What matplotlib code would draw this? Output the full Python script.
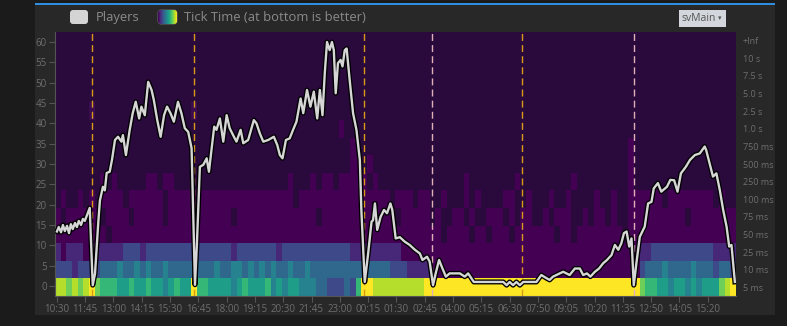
import numpy as np
import matplotlib
matplotlib.use('Agg')
import matplotlib.pyplot as plt
import matplotlib.patheffects as pe
from matplotlib.patches import FancyBboxPatch, Rectangle
from matplotlib.colors import to_rgb

plt.rcParams['font.family'] = ['Open Sans', 'DejaVu Sans']

# ---------------- data ----------------
tick_labels = ['10:30', '11:45', '13:00', '14:15', '15:30', '16:45', '18:00', '19:15',
               '20:30', '21:45', '23:00', '00:15', '01:30', '02:45', '04:00', '05:15',
               '06:30', '07:50', '09:05', '10:20', '11:35', '12:50', '14:05', '15:20']
tick_step = 75  # minutes between labels

bucket_labels = ['5 ms', '10 ms', '25 ms', '50 ms', '75 ms', '100 ms', '250 ms', '500 ms',
                 '750 ms', '1.0 s', '2.5 s', '5.0 s', '7.5 s', '10 s', '+Inf']

# minutes since 10:30
players_t = [0, 5, 11, 16, 21, 27, 32, 37, 42, 48, 53, 58, 64, 69, 74, 80, 87, 91, 95, 101,
             105, 110, 114, 122, 127, 132, 140, 146, 154, 162, 171, 175, 183, 193, 201, 209,
             218, 224, 233, 242, 251, 257, 266, 275, 284, 292, 301, 310, 321, 330, 339, 348,
             357, 361, 366, 371, 379, 388, 397, 403, 417, 423, 432, 441, 450, 458, 467, 476,
             487, 494, 507, 522, 529, 538, 547, 560, 575, 584, 591, 598, 607, 617, 626, 635,
             646, 653, 663, 672, 681, 690, 697, 704, 710, 716, 723, 729, 734, 739, 745, 752,
             757, 763, 768, 776, 785, 794, 803, 807, 816, 825, 834, 838, 843, 849, 858, 867,
             875, 884, 889, 898, 909, 922, 935, 949, 962, 969, 981, 988, 997, 1004, 1013,
             1022, 1031, 1041, 1068, 1081, 1090, 1105, 1183, 1192, 1200, 1209, 1218, 1227,
             1236, 1271, 1284, 1298, 1306, 1315, 1324, 1342, 1359, 1373, 1386, 1395, 1405,
             1414, 1426, 1437, 1448, 1458, 1470, 1479, 1488, 1496, 1503, 1510, 1517, 1523,
             1529, 1536, 1545, 1558, 1567, 1576, 1582, 1593, 1602, 1617, 1626, 1636, 1645,
             1654, 1667, 1678, 1691, 1704, 1717, 1721, 1730, 1739, 1748, 1757, 1766, 1775,
             1782, 1788, 1797]
players_v = [13.4, 14.5, 13.2, 15.0, 13.5, 14.8, 13.0, 15.2, 14.0, 15.5, 14.5, 16.0, 15.0, 16.5,
             16.0, 17.5, 19.2, 10.0, 0.2, 3.0, 8.9, 16.0, 21.0, 24.4, 23.5, 27.8, 28.1, 31.0,
             35.9, 36.7, 35.5, 37.1, 32.2, 38.4, 42.5, 45.3, 41.2, 44.1, 42.0, 50.2, 48.2,
             45.7, 40.8, 36.7, 42.0, 44.1, 42.5, 40.4, 45.3, 42.5, 38.8, 37.9, 33.9, 18.7,
             0.3, 10.0, 29.3, 29.8, 31.4, 28.1, 39.2, 38.4, 41.2, 35.5, 42.0, 38.8, 37.1,
             35.5, 38.4, 35.1, 35.9, 40.8, 40.0, 37.5, 35.5, 35.9, 36.7, 34.7, 32.2, 31.4,
             35.9, 36.3, 38.4, 40.4, 46.1, 42.5, 48.2, 44.1, 47.8, 41.2, 48.2, 42.0, 52.3,
             60.0, 58.0, 60.0, 58.0, 47.4, 54.8, 55.6, 54.0, 58.0, 58.4, 50.7, 42.5, 38.4,
             31.0, 18.7, 1.0, 8.0, 15.8, 16.2, 20.3, 13.8, 17.0, 18.7, 17.9, 20.3, 18.7,
             11.7, 12.0, 10.9, 10.1, 8.9, 8.0, 6.4, 7.2, 6.0, 0.2, 3.1, 6.4, 4.3, 2.3, 3.1,
             3.1, 2.3, 3.1, 1.0, 1.0, 0.2, 1.0, 0.2, 1.0, 0.2, 1.0, 1.0, 2.7, 1.9, 1.5, 2.3,
             2.7, 3.5, 2.7, 4.3, 4.3, 2.7, 3.1, 2.3, 3.5, 4.3, 5.6, 6.4, 7.6, 10.1, 8.9,
             10.5, 13.0, 13.4, 9.7, 11.7, 0.2, 5.6, 12.1, 14.6, 20.3, 20.7, 24.0, 25.3, 23.2,
             24.4, 26.1, 26.0, 23.2, 27.7, 29.3, 31.0, 32.2, 32.6, 34.3, 33.4, 30.2, 26.9,
             27.7, 23.6, 18.7, 14.6, 9.7, 10.1, 1.0]

restart_t = [93, 363, 814, 994, 1232, 1529]
restart_c = ['#d99a1a', '#d99a1a', '#d99a1a', '#e0b0b8', '#d99a1a', '#e0b0b8']

# heatmap, 120 columns of 15 min each; digit = viridis level (0-9), '.' = empty, ':' = faint
heat_rows = {
    '5 ms':   "887878" + "97" + "6665565565545655" + "96" + "6555545655564545544433" + "22232" + "6"
              + "99" + "8888888889" + "9" * 35 + "99" + "76655455454555" + "789",
    '10 ms':  "222122" + "22" + "3334334343343333" + "33" + "3343344343434334334333" + "33333" + "3"
              + "33" + "3332221111" + "0" * 35 + "00" + "23334333343332" + "332",
    '25 ms':  "101110" + "11" + "1111222122222222" + "22" + "2222212222222122222222" + "22221" + "1"
              + "11" + "1111100000" + "0" * 35 + "00" + "11222222222221" + "111",
    '50 ms':  "000000000.00000000000000" + "0" * 30 + "0" * 12
              + "00.0000.00.000.0000000.00.00000000." + "0" * 19,
    '75 ms':  "0.000000.0000.00000.0000" + "0000000.00000000000000.0000000" + "000000.00000"
              + ".0..00.0..000.0.00..0.000..0.00.0.." + "0000000000.00000000",
    '100 ms': ".0..0.0.0000.000000.0000" + "000000000000000000.00000000000" + "00000.000.00"
              + "..0...0.0....00..0...0..0....0..0.." + "000000.00000000.0..",
    '250 ms': "........0.0.....00.00..." + ".................0...0.00.0000" + "0.0........."
              + "......0........0.........0........." + "0..................",
    '500 ms': "." * 52 + "00" + "." + "0" + "." * 45 + "0" + "." * 18,
    '750 ms': "." * 52 + "0" + "." * 48 + "0" + "." * 18,
    '1.0 s':  "." * 50 + "0" + "." * 69,
    '2.5 s':  "." * 6 + ":" + "." * 17 + ":" + "." * 95,
}

# ---------------- figure ----------------
W, H = 787, 326
fig = plt.figure(figsize=(W / 100, H / 100), dpi=100, facecolor='#1b1b1b')

# background panel drawn in a bottom pixel-space axes
bg = fig.add_axes([0, 0, 1, 1], zorder=-10)
bg.set_xlim(0, W)
bg.set_ylim(H, 0)
bg.axis('off')
bg.add_patch(Rectangle((35, 4), 740, 311, facecolor='#282828', edgecolor='none'))
bg.add_patch(Rectangle((35, 3.4), 740, 1.6, facecolor='#2f8ee0', edgecolor='none'))

ax = fig.add_axes([55 / W, 1 - 296 / H, (736 - 55) / W, (296 - 32) / H])
ax.set_facecolor('#2a0a3c')

ncol = 120
cmap = plt.get_cmap('viridis')
empty = to_rgb('#2a0a3c')
faint = to_rgb('#3b0d50')
img = np.zeros((len(bucket_labels), ncol, 3))
for i, lab in enumerate(bucket_labels):
    s = (heat_rows.get(lab, '') + '.' * ncol)[:ncol]
    for j, ch in enumerate(s):
        if ch == '.':
            img[i, j] = empty
        elif ch == ':':
            img[i, j] = faint
        else:
            img[i, j] = cmap(int(ch) / 9)[:3]

ylo, yhi = -2.46, 62.46
xlo, xhi = -5, 1800
ax.imshow(img, origin='lower', aspect='auto', extent=(xlo, xhi, ylo, yhi),
          interpolation='nearest', zorder=0)

for t, c in zip(restart_t, restart_c):
    ax.axvline(t, color=c, lw=1.0, ls=(0, (5, 3)), zorder=2)

ax.plot(players_t, players_v, color='#d6d6d6', lw=1.7, zorder=3, solid_joinstyle='round',
        path_effects=[pe.Stroke(linewidth=3.6, foreground='black'), pe.Normal()])

ax.set_xlim(xlo, xhi)
ax.set_ylim(ylo, yhi)
ax.set_xticks(np.arange(len(tick_labels)) * tick_step)
ax.set_xticklabels(tick_labels)
ax.set_yticks(np.arange(0, 61, 5))
ax.tick_params(axis='both', labelsize=7, labelcolor='#6e6e6e', color='#555555',
               length=4, width=0.8, pad=2)
for side in ['top', 'right']:
    ax.spines[side].set_visible(False)
for side in ['left', 'bottom']:
    ax.spines[side].set_color('#555555')
    ax.spines[side].set_linewidth(0.8)

ax2 = ax.twinx()
ax2.set_ylim(0, len(bucket_labels))
ax2.set_yticks(np.arange(len(bucket_labels)) + 0.5)
ax2.set_yticklabels(bucket_labels)
ax2.tick_params(axis='y', labelsize=6.5, labelcolor='#6e6e6e', length=0, pad=5)
for s in ax2.spines.values():
    s.set_visible(False)

# ---------------- legend + button (pixel overlay) ----------------
ov = fig.add_axes([0, 0, 1, 1], zorder=5)
ov.set_xlim(0, W)
ov.set_ylim(H, 0)
ov.axis('off')
ov.patch.set_alpha(0)

ov.add_patch(FancyBboxPatch((71, 11), 16, 12, boxstyle='round,pad=1,rounding_size=3',
                            facecolor='#d4d4d4', edgecolor='none'))
ov.text(96, 17.5, 'Players', color='#8a8a8a', fontsize=9.4, va='center', ha='left')

grad_box = FancyBboxPatch((159, 11), 17, 12, boxstyle='round,pad=1,rounding_size=3',
                          facecolor='none', edgecolor='#777777', lw=0.6)
ov.add_patch(grad_box)
gim = ov.imshow(np.linspace(0, 1, 64)[None, :], cmap='viridis', aspect='auto',
                extent=(158, 177, 24, 10), zorder=1)
gim.set_clip_path(grad_box)
ov.text(184, 17.5, 'Tick Time (at bottom is better)', color='#8a8a8a', fontsize=9.4,
        va='center', ha='left')

ov.add_patch(Rectangle((679, 10), 47, 17, facecolor='#d3d6dc', edgecolor='none'))
ov.text(699, 18.5, 'svMain', color='#555555', fontsize=7.5, va='center', ha='center')
ov.text(719.5, 18.5, '\u25be', color='#555555', fontsize=5, va='center', ha='center',
        family=['DejaVu Sans'])

fig.savefig('out.png', dpi=100, facecolor=fig.get_facecolor())
